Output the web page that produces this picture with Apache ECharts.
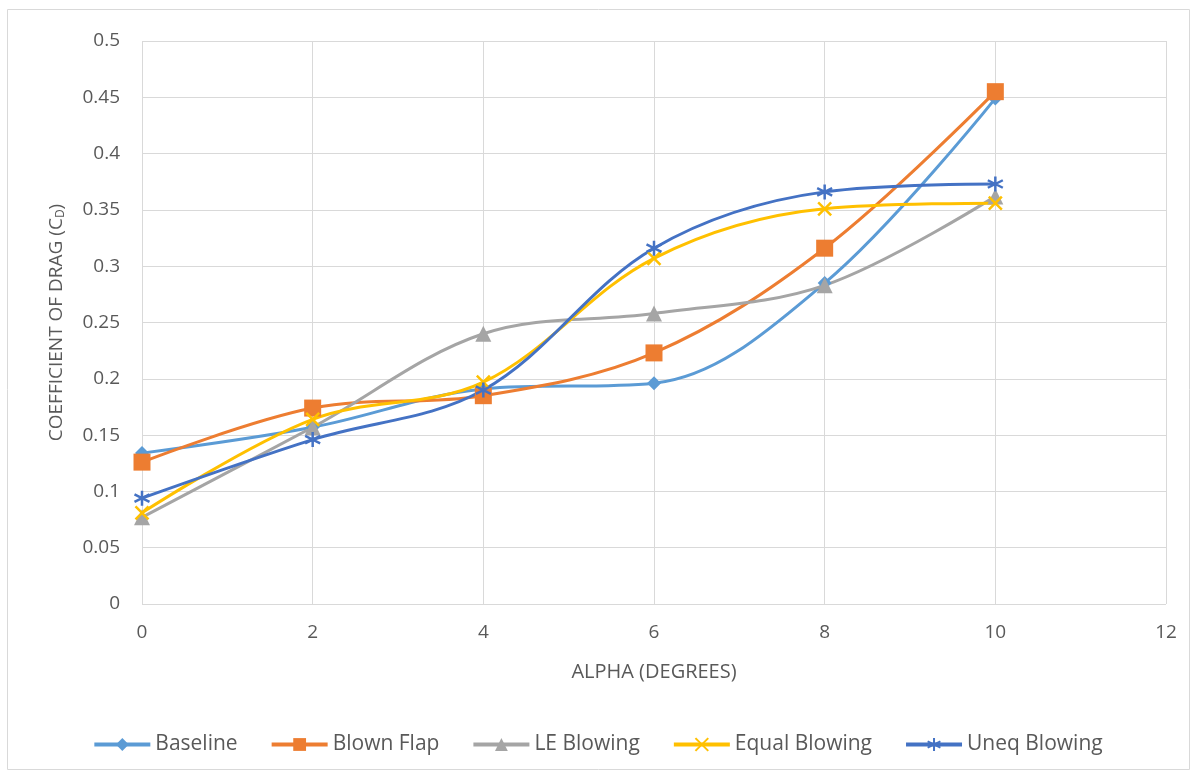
<!DOCTYPE html>
<html><head><meta charset="utf-8">
<script src="https://cdn.jsdelivr.net/npm/echarts@6/dist/echarts.min.js"></script>
<style>html,body{margin:0;padding:0;background:#fff;}#c{width:1195px;height:776px;}</style>
</head><body><div id="c"></div>
<script>
const alpha = [0, 2, 4, 6, 8, 10];
const baseline = [0.134, 0.157, 0.191, 0.196, 0.285, 0.449];
const blownFlap = [0.126, 0.174, 0.185, 0.223, 0.316, 0.455];
const leBlowing = [0.077, 0.157, 0.240, 0.258, 0.283, 0.362];
const equalBlowing = [0.081, 0.164, 0.197, 0.307, 0.351, 0.356];
const uneqBlowing = [0.094, 0.146, 0.190, 0.316, 0.366, 0.373];
const seriesNames = ['Baseline', 'Blown Flap', 'LE Blowing', 'Equal Blowing', 'Uneq Blowing'];

const FONT = 'Open Sans';
const pair = v => alpha.map((a, i) => [a, v[i]]);
const xPath = 'path://M0,0L10,10M10,0L0,10';
const starPath = 'path://M5,0L5,10M0,2.5L10,7.5M10,2.5L0,7.5';

function mk(name, data, color, symbol, size, stroke) {
  const s = {
    name, type: 'line', data: pair(data), smooth: 0.35,
    symbol, symbolSize: size,
    lineStyle: { color, width: 3 },
    itemStyle: { color },
    z: 2
  };
  if (stroke) s.itemStyle = { color: 'rgba(0,0,0,0)', borderColor: color, borderWidth: 2.5 };
  return s;
}

const chart = echarts.init(document.getElementById('c'));
chart.setOption({
  animation: false,
  graphic: [{ type: 'rect', shape: { x: 7.5, y: 9.5, width: 1182, height: 760 }, style: { fill: 'none', stroke: '#D9D9D9', lineWidth: 1 } }],
  grid: { left: 142, right: 29, top: 41, bottom: 172 },
  xAxis: {
    type: 'value', min: 0, max: 12, interval: 2,
    name: 'ALPHA (DEGREES)', nameLocation: 'middle', nameGap: 58,
    nameTextStyle: { fontFamily: FONT, fontSize: 20, color: '#595959' },
    axisLine: { show: false }, axisTick: { show: false },
    axisLabel: { fontFamily: FONT, fontSize: 19, color: '#595959', margin: 19 },
    splitLine: { show: true, lineStyle: { color: '#D9D9D9', width: 1 } }
  },
  yAxis: {
    type: 'value', min: 0, max: 0.5, interval: 0.05,
    name: '{a|COEFFICIENT OF DRAG (C}{s|D}{a|)}', nameLocation: 'middle', nameGap: 75,
    nameTextStyle: { rich: { a: { fontFamily: FONT, fontSize: 19, color: '#595959' }, s: { fontFamily: FONT, fontSize: 12, color: '#595959', verticalAlign: 'bottom', padding: [9, 0, 0, 0] } } },
    axisLine: { show: false }, axisTick: { show: false },
    axisLabel: { fontFamily: FONT, fontSize: 19, color: '#595959', margin: 22, formatter: v => String(+v.toFixed(2)) },
    splitLine: { show: true, lineStyle: { color: '#D9D9D9', width: 1 } }
  },
  legend: {
    top: 729, left: 'center', itemGap: 32, itemWidth: 56, itemHeight: 16,
    lineStyle: { width: 4 },
    textStyle: { fontFamily: FONT, fontSize: 21, color: '#595959' },
    data: seriesNames
  },
  series: [
    mk(seriesNames[0], baseline, '#5B9BD5', 'diamond', 14),
    mk(seriesNames[1], blownFlap, '#ED7D31', 'rect', 17),
    mk(seriesNames[2], leBlowing, '#A5A5A5', 'triangle', 16),
    mk(seriesNames[3], equalBlowing, '#FFC000', xPath, 13, true),
    mk(seriesNames[4], uneqBlowing, '#4472C4', starPath, 15, true)
  ]
});
</script></body></html>
